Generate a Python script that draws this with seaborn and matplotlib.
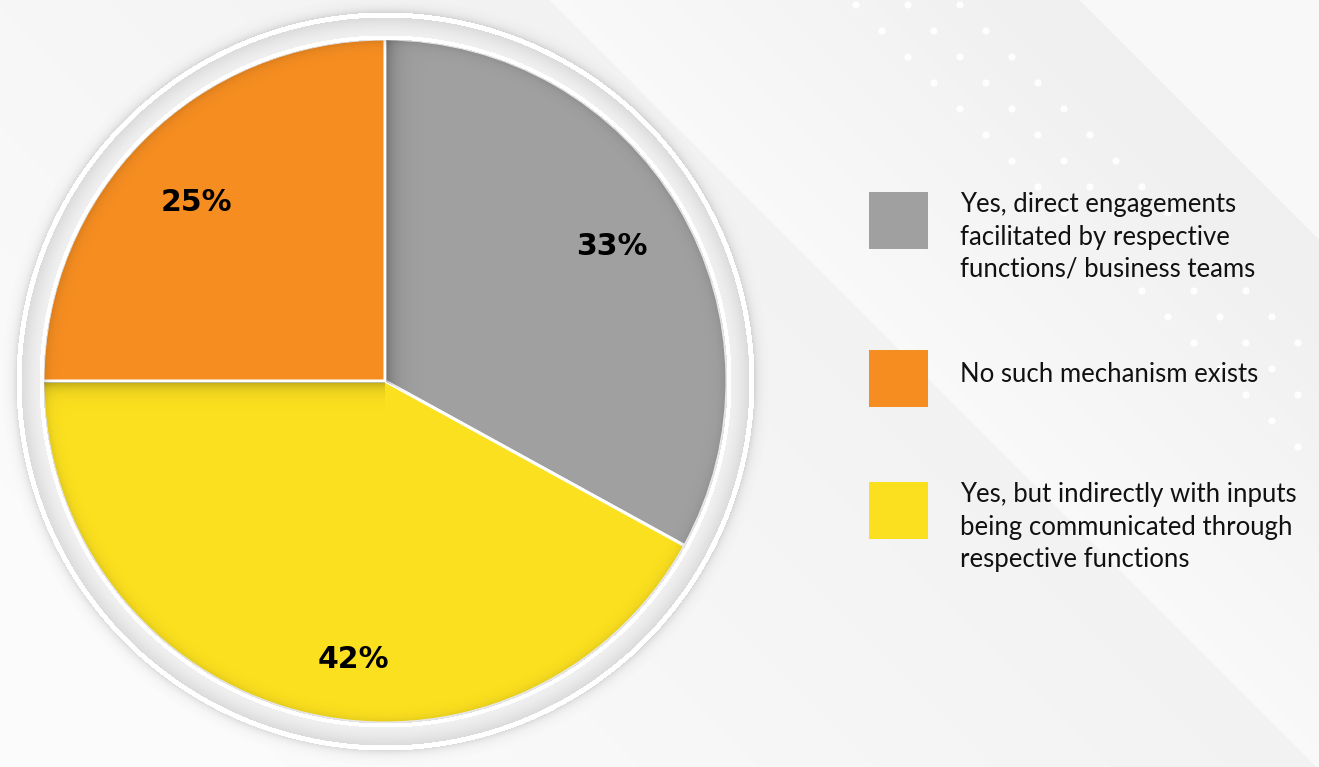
import numpy as np
import matplotlib
matplotlib.use("Agg")
import matplotlib.pyplot as plt
import seaborn as sns
from matplotlib.patches import Rectangle

# ---- data -------------------------------------------------------------
categories = [
    "Yes, direct engagements\nfacilitated by respective\nfunctions/ business teams",
    "No such mechanism exists",
    "Yes, but indirectly with inputs\nbeing communicated through\nrespective functions",
]
shares = [33, 25, 42]
pct_labels = ["33%", "25%", "42%"]
slice_colors = ["#a0a0a0", "#f58d21", "#fbe01f"]
pie_order = [0, 2, 1]          # clockwise from 12 o'clock

# ---- canvas -----------------------------------------------------------
W, H = 1319, 767
sns.set_theme(style="white")
plt.rcParams["font.family"] = ["Lato", "DejaVu Sans"]

fig = plt.figure(figsize=(W / 100, H / 100), dpi=100)
ax = fig.add_axes([0, 0, 1, 1])

CX, CY, R = 385, 381, 342      # pie centre / radius in pixel units

# background: soft diagonal light bands + ring around the pie
yy, xx = np.mgrid[0:H, 0:W].astype(float)
c = xx - yy
bg = np.full((H, W), 0.972)
left = c < 550
bg[left] = 0.985 - 0.035 * np.clip((c[left] + 500) / 1050, 0, 1)
mid = (c >= 550) & (c < 1080)
bg[mid] = 0.978 - 0.035 * np.clip((c[mid] - 550) / 450, 0, 1)
bg[c >= 1080] = 0.975

rho = np.hypot(xx - CX, yy - CY) - R
img = bg.copy()
band = (rho >= 4) & (rho < 22)
img[band] = 0.94 - 0.08 * ((rho[band] - 4) / 18) ** 1.5
img[(rho >= 0) & (rho < 4)] = 1.0
img[(rho >= 22) & (rho < 27)] = 1.0
sh = (rho >= 27) & (rho < 42)
img[sh] = bg[sh] - 0.12 * np.exp(-(rho[sh] - 27) / 4.5)
ax.imshow(np.dstack([img] * 3), extent=(0, W, H, 0), zorder=0,
          interpolation="bilinear")

# dotted diagonal pattern (three dots per row, stepping down-right)
for k in range(-1, 20):
    for j in range(3):
        px, py = 856 + 26 * k + 52 * j, 5 + 26 * k
        if px < W + 5:
            ax.add_patch(plt.Circle((px, py), 3.6, color="white",
                                    alpha=0.95, zorder=1, lw=0))

# ---- pie --------------------------------------------------------------
vals = [shares[i] for i in pie_order]
cols = [slice_colors[i] for i in pie_order]
wedges, _ = ax.pie(vals, colors=cols, startangle=-90, counterclock=True,
                   center=(CX, CY), radius=R, frame=True,
                   wedgeprops=dict(edgecolor="white", linewidth=2.2))
for w in wedges:
    w.set_zorder(3)

# inner shading: darker rim + shadows cast along the dividers
ang = np.degrees(np.arctan2(yy - CY, xx - CX)) % 360
dist = np.hypot(xx - CX, yy - CY)
alpha = np.zeros((H, W))
inside = dist < R
alpha[inside] = 0.13 * np.exp(-(R - dist[inside]) / 5.0)
bounds = np.cumsum([0] + vals) / sum(vals) * 360 - 90
t_gray = (ang >= (bounds[0] % 360)) | (ang < bounds[1])
alpha += inside * t_gray * (xx > CX) * 0.30 * np.exp(-(xx - CX) / 9.0)
t_yel = (ang >= bounds[1]) & (ang < bounds[2])
alpha += inside * t_yel * (yy > CY) * 0.28 * np.exp(-(yy - CY) / 7.0) * (xx < CX)
over = np.zeros((H, W, 4))
over[..., 3] = np.clip(alpha, 0, 0.4)
ax.imshow(over, extent=(0, W, H, 0), zorder=4, interpolation="bilinear")

# percentage labels placed along each wedge's bisector
label_r = {0: 0.77, 1: 0.76, 2: 0.82}
label_turn = {0: 0.0, 1: -1.5, 2: -8.0}
for w, idx in zip(wedges, pie_order):
    mid_a = np.radians((w.theta1 + w.theta2) / 2 + label_turn[idx])
    fr = label_r[idx]
    ax.text(CX + fr * R * np.cos(mid_a), CY + fr * R * np.sin(mid_a),
            pct_labels[idx], ha="center", va="center", fontsize=21.5,
            fontweight="bold", family="DejaVu Sans",
            color="black", zorder=5)

# ---- legend -----------------------------------------------------------
sq_top = [192, 350, 482]
text_mid = [237, 374, 527]
for i, lab in enumerate(categories):
    ax.add_patch(Rectangle((869, sq_top[i]), 59, 57, color=slice_colors[i],
                           lw=0, zorder=5))
    ax.text(960, text_mid[i], lab, ha="left", va="center", fontsize=18.5,
            color="#111111", linespacing=1.36, zorder=5)

ax.set_xlim(0, W)
ax.set_ylim(H, 0)
ax.set_aspect("auto")
ax.axis("off")
fig.savefig("out.png", dpi=100)
